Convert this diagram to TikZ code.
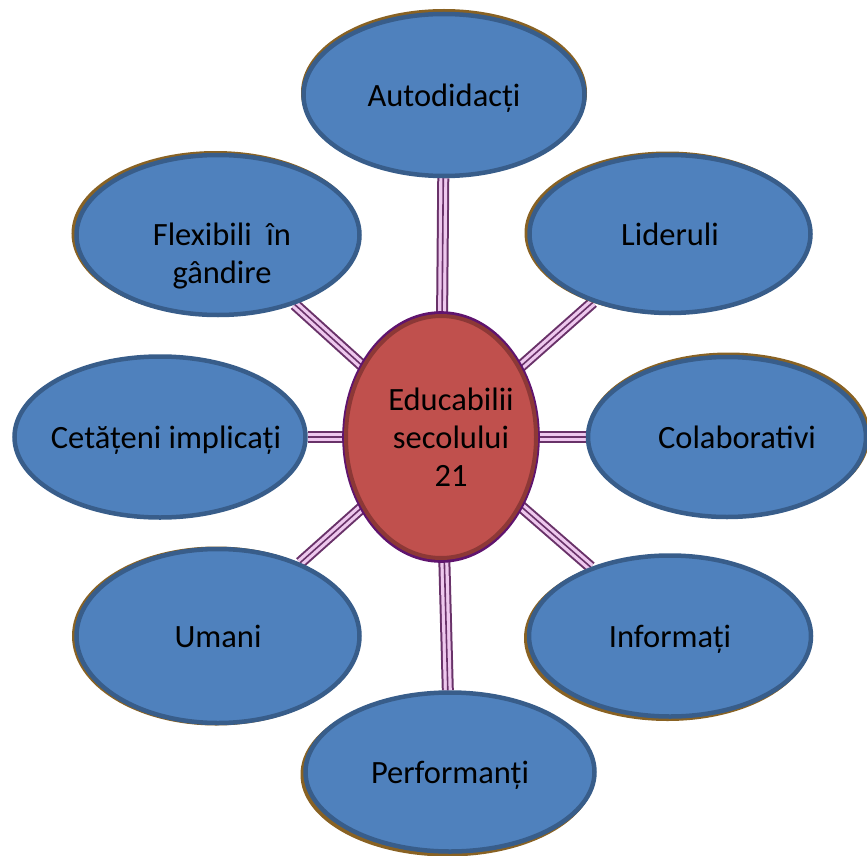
\documentclass[tikz,border=0pt]{standalone}
\usepackage{fontspec}
\setmainfont{Carlito}
\usepackage{tikz}
\usetikzlibrary{shapes.geometric,shadows,backgrounds}
\definecolor{bluefill}{RGB}{79,129,189}
\definecolor{blueedge}{RGB}{56,93,138}
\definecolor{redfill}{RGB}{192,80,77}
\definecolor{rededge}{RGB}{140,56,54}
\definecolor{ringc}{RGB}{96,20,110}
\definecolor{rimc}{RGB}{196,140,50}
\definecolor{linkdark}{RGB}{105,50,105}
\definecolor{linkpink}{RGB}{238,200,238}
% zero-width line, so the text does not widen the ellipse
\newcommand{\zw}[1]{\makebox[0pt]{#1}}
\tikzset{
  bubble/.style={ellipse,fill=bluefill,draw=blueedge,line width=4.5pt,
    inner sep=0pt,align=center,text depth=0pt,font=\fontsize{32.5}{38}\selectfont},
  rim/.style 2 args={general shadow={fill=rimc,draw=rimc!70!black,line width=5pt,
    shadow xshift=#1,shadow yshift=#2}},
  link/.style={draw=linkdark,line width=12pt,
    postaction={draw=linkpink,line width=8pt},
    postaction={draw=linkdark,line width=1.6pt}}
}

\begin{document}
\begin{tikzpicture}[x=1pt,y=-1pt]
	\useasboundingbox (0,0) rectangle (867,856);

	\begin{scope}[every node/.style={bubble}]
	    \node[rim={0pt}{2.5pt}, minimum width=281pt, minimum height=162pt] (auto) at (444,95) {\zw{Autodidacți}};
	    \node[rim={-2.5pt}{1pt}, minimum width=281pt, minimum height=158pt] (lid) at (670,234) {\zw{Lideruli}};
	    \node[rim={1.5pt}{2pt}, minimum width=278pt, minimum height=160pt] (col) at (727,437) {\zw{\hspace*{20pt}Colaborativi}};
	    \node[rim={-2.5pt}{-2pt}, minimum width=282pt, minimum height=161pt] (inf) at (670,636) {\zw{Informați}};
	    \node[rim={-2.5pt}{-2.5pt}, minimum width=289pt, minimum height=159pt] (perf) at (450,772) {\zw{Performanți}};
	    \node[rim={-2pt}{0pt}, minimum width=283pt, minimum height=174pt] (uman) at (218,636) {\zw{Umani}};
	    \node[minimum width=291pt, minimum height=161pt] (cet) at (160,437) {\zw{\hspace*{12pt}Cetățeni implicați}};
	    \node[rim={-2.5pt}{1.5pt}, minimum width=283pt, minimum height=160pt] (flex) at (218,235) {\mbox{}\\[20pt]\zw{\hspace*{8pt}Flexibili\ \ în}\\\zw{\hspace*{8pt}gândire}};
	    \node[fill=redfill, draw=rededge, line width=4pt,
	          general shadow={fill=ringc, shadow scale=1.04},
	          minimum width=190pt, minimum height=242pt] (edu) at (441,437)
	          {\zw{\hspace*{20pt}Educabilii}\\\zw{\hspace*{20pt}secolului}\\\zw{\hspace*{20pt}21}};
	\end{scope}

	\begin{scope}[on background layer, every edge/.style={link}]
    	\path (edu) edge (auto);
    	\path (edu) edge (lid);
    	\path (edu) edge (col);
    	\path (edu) edge (inf);
    	\path (edu) edge (perf);
    	\path (edu) edge (uman);
    	\path (edu) edge (cet);
    	\path (edu) edge (flex);
	\end{scope}
\end{tikzpicture}
\end{document}
